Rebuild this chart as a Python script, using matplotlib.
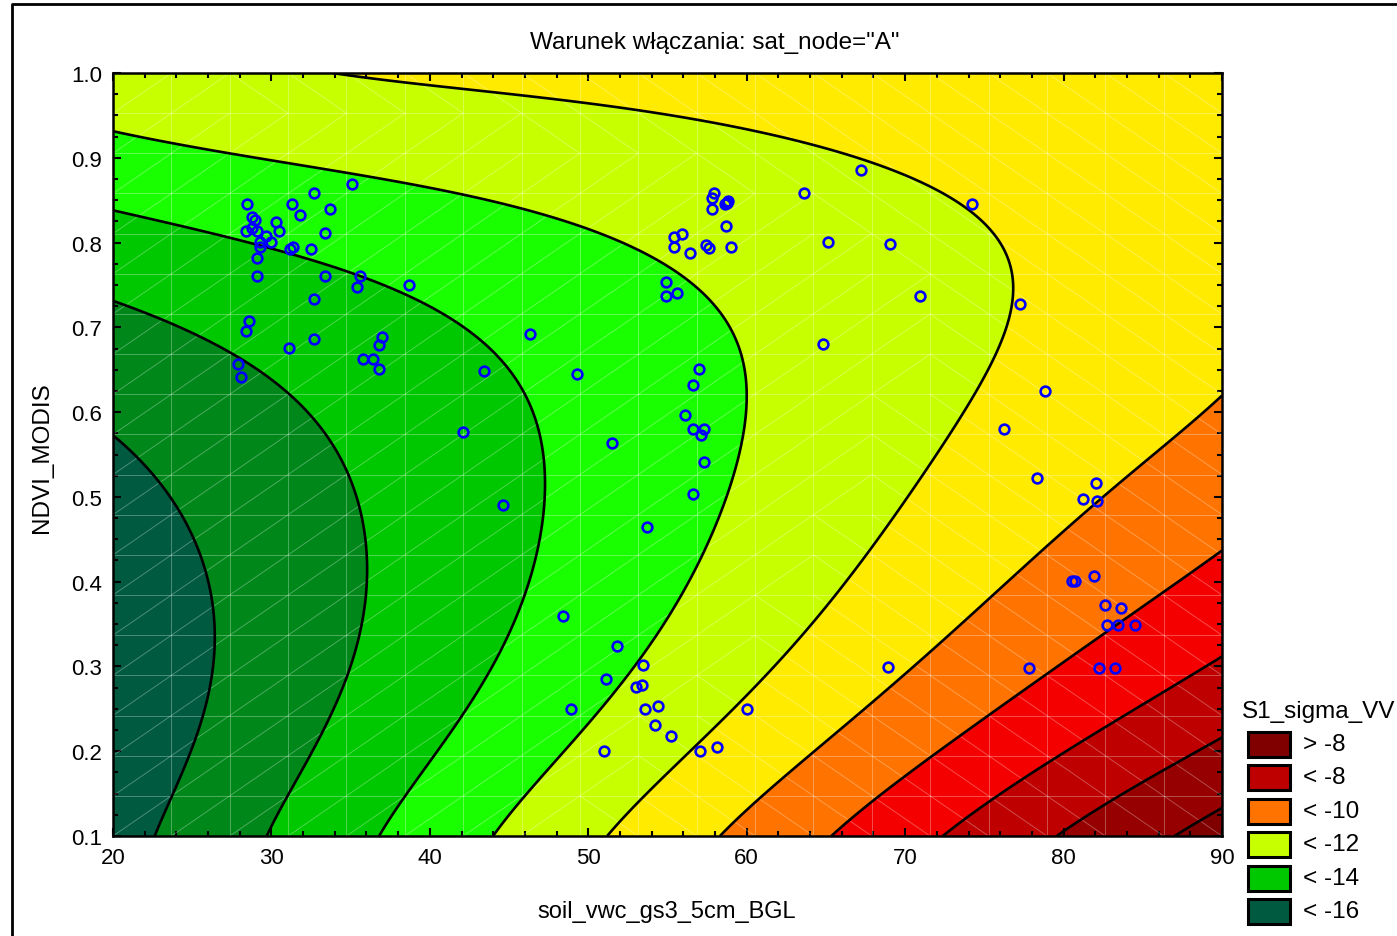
import numpy as np
import matplotlib
matplotlib.use("Agg")
import matplotlib.pyplot as plt
from matplotlib.patches import Rectangle
from matplotlib.lines import Line2D
from matplotlib.collections import LineCollection

plt.rcParams['font.family'] = ['Liberation Sans', 'DejaVu Sans']

# ---------------- data ----------------
# contour lines of the fitted surface S1_sigma_VV (x = soil_vwc, y = NDVI)
c16_x = [20, 21.7, 24.2, 25.9, 26.3, 25.9, 25.3, 23.8, 22.56]
c16_y = [0.574, 0.545, 0.486, 0.411, 0.341, 0.270, 0.214, 0.147, 0.1]
c15_x = [20, 25.5, 28.0, 31.0, 34.8, 35.8, 36.2, 36.0, 34.8, 32.6, 31.2, 29.72]
c15_y = [0.727, 0.686, 0.659, 0.617, 0.529, 0.486, 0.418, 0.348, 0.285, 0.211, 0.147, 0.1]
c14_x = [20, 25.5, 31.8, 35.6, 40.2, 43.2, 45.7, 47.1, 47.3, 46.95, 45.9, 44.6, 40.7, 36.79]
c14_y = [0.842, 0.818, 0.796, 0.760, 0.725, 0.676, 0.615, 0.541, 0.497, 0.447, 0.383, 0.324, 0.212, 0.1]
c13_x = [20, 26.4, 33.7, 40.2, 47.6, 49.7, 52.8, 56.0, 58.3, 59.8, 60.3, 60.2, 59.6, 58.5, 56.9, 55.2, 53.7, 48.8, 43.92]
c13_y = [0.93, 0.904, 0.881, 0.856, 0.837, 0.824, 0.792, 0.757, 0.716, 0.666, 0.619, 0.572, 0.521, 0.474, 0.418, 0.364, 0.321, 0.211, 0.1]
c12_x = [34.6, 38.5, 45.8, 50.6, 56.0, 60.5, 64.4, 67.7, 71.1, 74.2, 76.0, 76.9, 77.0, 76.6, 75.7,
         74.4, 72.8, 71.25, 70.3, 69.7, 62.8, 55.9, 53.3, 50.99]
c12_y = [1.0, 0.989, 0.974, 0.962, 0.945, 0.933, 0.915, 0.896, 0.864, 0.843, 0.804, 0.769, 0.733, 0.698, 0.657,
         0.621, 0.592, 0.556, 0.51, 0.47, 0.33, 0.191, 0.132, 0.1]
c11_x = [58.22, 64.0, 69.7, 76.0, 82.3, 87.3, 90.0]
c11_y = [0.1, 0.205, 0.283, 0.38, 0.4975, 0.572, 0.615]
c10_x = [65.26, 69.7, 77.5, 84.8, 90.0]
c10_y = [0.1, 0.163, 0.27, 0.365, 0.435]
c9_x = [72.35, 78.5, 84.6, 90.0]
c9_y = [0.1, 0.18, 0.257, 0.315]
c8_x = [79.55, 84.77, 90.0]
c8_y = [0.1, 0.158, 0.217]
c7_x = [86.72, 90.0]
c7_y = [0.1, 0.13]
# values inside the wide yellow band (between -12 and -11)
band_x = [90, 90, 84, 80, 86]
band_y = [0.8, 1.0, 0.95, 0.85, 0.7]
band_z = [-11.4, -11.5, -11.6, -11.75, -11.35]

# observations
soil_vwc = [28.44, 28.75, 28.96, 28.39, 28.75, 29.11, 29.64, 29.28, 29.28, 29.95, 30.31, 30.48,
            31.32, 31.82, 32.69, 33.70, 35.07, 33.36, 31.17, 31.34, 32.52, 29.11, 29.11, 33.36,
            35.61, 35.42, 38.66, 32.69, 28.58, 28.41, 32.67, 31.13, 36.98, 36.79, 35.76, 36.43,
            36.79, 27.91, 28.08, 43.44, 46.32, 49.27, 42.07, 44.64, 51.48, 53.69, 48.40, 51.83,
            56.99, 56.59, 56.09, 56.59, 57.30, 57.09, 57.30, 56.59, 57.95, 57.79, 58.74, 58.84,
            58.61, 57.79, 58.67, 55.39, 55.93, 55.41, 56.44, 57.41, 57.60, 59.01, 63.62, 65.15,
            54.89, 54.89, 55.58, 64.80, 67.21, 74.22, 69.04, 70.94, 77.25, 78.83, 76.24, 78.32,
            82.05, 81.21, 82.09, 80.51, 80.72, 81.90, 82.59, 83.60, 82.76, 83.43, 84.49, 77.80,
            82.26, 83.27, 68.92, 60.02, 48.91, 51.12, 53.45, 53.01, 53.39, 53.58, 54.40, 54.21,
            55.22, 57.05, 58.12, 50.99]
ndvi = [0.846, 0.830, 0.827, 0.814, 0.817, 0.814, 0.808, 0.801, 0.795, 0.801, 0.824, 0.814,
        0.846, 0.833, 0.859, 0.840, 0.869, 0.811, 0.792, 0.795, 0.792, 0.782, 0.760, 0.760,
        0.760, 0.747, 0.750, 0.734, 0.708, 0.696, 0.686, 0.676, 0.689, 0.679, 0.663, 0.663,
        0.651, 0.657, 0.641, 0.648, 0.692, 0.645, 0.577, 0.491, 0.564, 0.465, 0.359, 0.324,
        0.651, 0.632, 0.597, 0.580, 0.580, 0.573, 0.541, 0.503, 0.859, 0.852, 0.847, 0.849,
        0.846, 0.839, 0.820, 0.807, 0.810, 0.795, 0.788, 0.797, 0.794, 0.795, 0.859, 0.801,
        0.753, 0.737, 0.740, 0.680, 0.886, 0.845, 0.798, 0.737, 0.727, 0.625, 0.580, 0.522,
        0.516, 0.497, 0.495, 0.401, 0.401, 0.407, 0.372, 0.369, 0.349, 0.349, 0.349, 0.298,
        0.298, 0.298, 0.299, 0.250, 0.250, 0.285, 0.302, 0.276, 0.278, 0.250, 0.253, 0.231,
        0.218, 0.200, 0.205, 0.200]

levels = [-16, -15, -14, -13, -12, -11, -10, -9, -8, -7]
band_colors = ['#005a40', '#008719', '#00c800', '#1aff00', '#c8ff00', '#ffeb00',
               '#ff7300', '#f50000', '#be0000', '#960000', '#800000']
legend_labels = ['> -8', '< -8', '< -10', '< -12', '< -14', '< -16']
legend_colors = ['#800000', '#be0000', '#ff7300', '#c8ff00', '#00c800', '#005a40']
legend_title = 'S1_sigma_VV'

# ---------------- surface fit (polynomial least squares through the read contour points) ----------------
lines = [(c16_x, c16_y), (c15_x, c15_y), (c14_x, c14_y), (c13_x, c13_y), (c12_x, c12_y),
         (c11_x, c11_y), (c10_x, c10_y), (c9_x, c9_y), (c8_x, c8_y), (c7_x, c7_y)]
px, py, pz, pw = [], [], [], []
for lev, (lx, ly) in zip(levels, lines):
    px += list(lx); py += list(ly); pz += [lev] * len(lx)
    pw += [1.5 if lev == -12 else 1.0] * len(lx)
px += band_x; py += band_y; pz += band_z; pw += [0.5] * len(band_x)
px, py, pz, pw = map(np.asarray, (px, py, pz, pw))

DEG = 6
def design(x, y):
    u = (np.asarray(x) - 55.0) / 35.0
    v = (np.asarray(y) - 0.55) / 0.45
    return np.stack([u ** i * v ** j for i in range(DEG + 1) for j in range(DEG + 1 - i)], -1)

A = design(px, py) * pw[:, None]
b = pz * pw
coef = np.linalg.solve(A.T @ A + 3e-4 * np.eye(A.shape[1]), A.T @ b)

gx = np.linspace(20, 90, 400)
gy = np.linspace(0.1, 1.0, 400)
GX, GY = np.meshgrid(gx, gy)
GZ = design(GX, GY) @ coef

# ---------------- figure ----------------
W, H = 1397, 937
fig = plt.figure(figsize=(W / 100, H / 100), dpi=100)
ax = fig.add_axes([113 / W, 1 - 837 / H, (1222 - 113) / W, (837 - 74) / H])

bounds = [-100] + levels + [100]
ax.contourf(GX, GY, GZ, levels=bounds, colors=band_colors, zorder=1)

# mesh of the 20 x 20 surface grid
mx = np.linspace(20, 90, 20)
my = np.linspace(0.1, 1.0, 20)
MX, MY = np.meshgrid(mx, my)
MZ = design(MX, MY) @ coef
segs = []
for xv in mx:
    segs.append([(xv, 0.1), (xv, 1.0)])
for yv in my:
    segs.append([(20, yv), (90, yv)])
for i in range(19):
    for j in range(19):
        zc = 0.25 * (MZ[i, j] + MZ[i + 1, j + 1] + MZ[i, j + 1] + MZ[i + 1, j])
        if zc < -12.3:
            segs.append([(mx[j], my[i]), (mx[j + 1], my[i + 1])])
        else:
            segs.append([(mx[j + 1], my[i]), (mx[j], my[i + 1])])
ax.add_collection(LineCollection(segs, colors=(1, 1, 1, 0.3), linewidths=0.7, zorder=2))

ax.contour(GX, GY, GZ, levels=levels, colors='black', linewidths=1.9, linestyles='solid', zorder=3)

ax.plot(soil_vwc, ndvi, linestyle='none', marker='o', markersize=7, markerfacecolor='none',
        markeredgecolor='#0000ff', markeredgewidth=1.9, zorder=4, clip_on=False)

ax.set_xlim(20, 90)
ax.set_ylim(0.1, 1.0)
ax.set_xticks(np.arange(20, 91, 10))
ax.set_xticks(np.arange(20, 91, 2), minor=True)
ax.set_yticks(np.arange(0.1, 1.001, 0.1))
ax.set_yticks(np.arange(0.1, 1.001, 0.025), minor=True)
ax.set_yticklabels([f"{v:.1f}" for v in np.arange(0.1, 1.001, 0.1)])
ax.tick_params(which='both', direction='in', top=True, right=True, labelsize=16, width=1.5)
ax.tick_params(which='major', length=6, pad=8)
ax.tick_params(which='minor', length=3.5)
for s in ax.spines.values():
    s.set_linewidth(1.8)

fig.text(667 / W, 1 - 912 / H, 'soil_vwc_gs3_5cm_BGL', ha='center', va='center', fontsize=17)
fig.text(42 / W, 1 - 458 / H, 'NDVI_MODIS', ha='center', va='center', rotation=90, fontsize=17.5)
fig.text(715 / W, 1 - 43 / H, 'Warunek włączania: sat_node="A"', ha='center', va='center', fontsize=17.5)

# outer frame
fig.add_artist(Line2D([12 / W, 12 / W, 1.0], [0.0, 1 - 5 / H, 1 - 5 / H], color='black', linewidth=2))

# legend drawn in figure pixel coordinates
lax = fig.add_axes([0, 0, 1, 1])
lax.set_xlim(0, W)
lax.set_ylim(H, 0)
lax.axis('off')
lax.text(1242, 712, legend_title, ha='left', va='center', fontsize=17.5)
for k, (lab, col) in enumerate(zip(legend_labels, legend_colors)):
    yc = 745 + k * 33.5
    lax.add_patch(Rectangle((1248, yc - 12.5), 42, 25, facecolor=col, edgecolor='black', linewidth=2.2))
    lax.text(1303, yc, lab, ha='left', va='center', fontsize=17.5)

fig.savefig('out.png', dpi=100)
